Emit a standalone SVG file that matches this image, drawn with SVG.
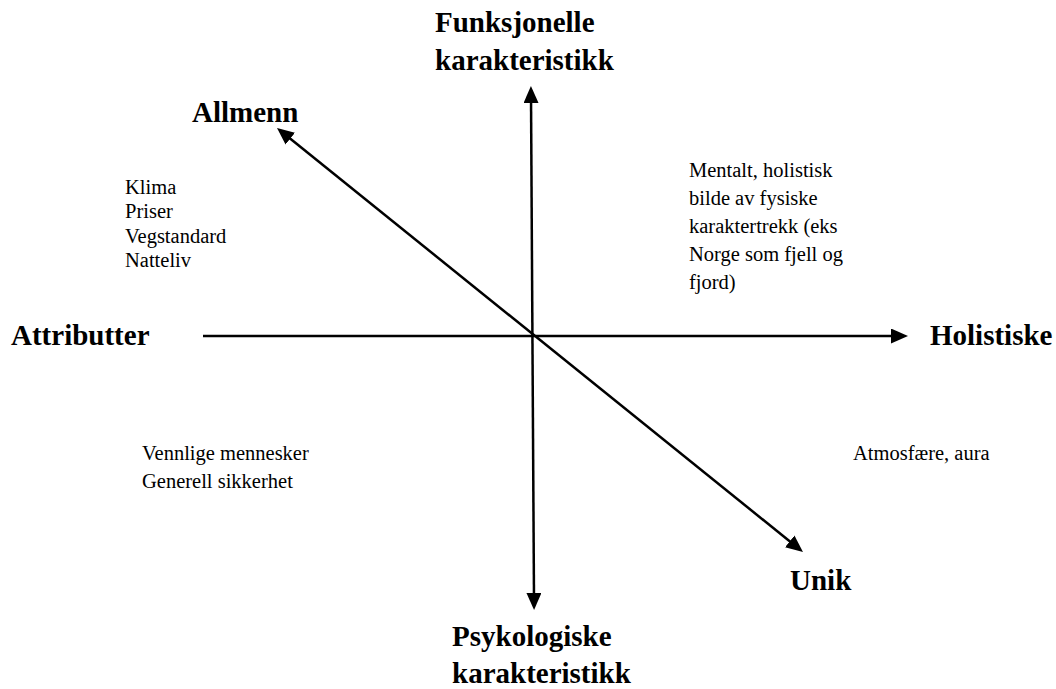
<svg xmlns="http://www.w3.org/2000/svg" width="1056" height="689" viewBox="0 0 1056 689">
  <style>
    .axis { stroke: #000; stroke-width: 2.5; fill: none; }
    .title { font-family: "Liberation Serif", "Times New Roman", serif; font-weight: bold; font-size: 29px; fill: #000; }
    .note { font-family: "Liberation Serif", "Times New Roman", serif; font-size: 20.5px; fill: #000; }
  </style>
  <defs>
    <!-- filled triangular head; tip sits 10px beyond the line end -->
    <marker id="head" viewBox="0 0 17 15" refX="7" refY="7.5" markerWidth="17" markerHeight="15" markerUnits="userSpaceOnUse" orient="auto-start-reverse">
      <path d="M0,0 L17,7.5 L0,15 Z" fill="#000"/>
    </marker>
  </defs>

  <rect width="1056" height="689" fill="#fff"/>

  <!-- axes -->
  <g id="connectors">
    <line id="axis-vertical" class="axis" x1="531" y1="96" x2="534" y2="600" marker-start="url(#head)" marker-end="url(#head)"/>
    <line id="axis-horizontal" class="axis" x1="203" y1="336" x2="898" y2="336" marker-end="url(#head)"/>
    <line id="axis-diagonal" class="axis" x1="284.8" y1="134.3" x2="795.2" y2="545.7" marker-start="url(#head)" marker-end="url(#head)"/>
  </g>

  <!-- axis end labels -->
  <g id="label-funksjonelle">
    <text class="title" x="435" y="32">Funksjonelle</text>
    <text class="title" x="435" y="70">karakteristikk</text>
  </g>
  <g id="label-psykologiske">
    <text class="title" x="452" y="646">Psykologiske</text>
    <text class="title" x="452" y="683">karakteristikk</text>
  </g>
  <g id="label-allmenn">
    <text class="title" x="192" y="122">Allmenn</text>
  </g>
  <g id="label-unik">
    <text class="title" x="790" y="590">Unik</text>
  </g>
  <g id="label-attributter">
    <text class="title" x="11" y="345">Attributter</text>
  </g>
  <g id="label-holistiske">
    <text class="title" x="930" y="345">Holistiske</text>
  </g>

  <!-- quadrant contents -->
  <g id="quadrant-top-left">
    <text class="note" x="125" y="194">Klima</text>
    <text class="note" x="125" y="218">Priser</text>
    <text class="note" x="125" y="243">Vegstandard</text>
    <text class="note" x="125" y="267">Natteliv</text>
  </g>
  <g id="quadrant-top-right">
    <text class="note" x="689" y="177">Mentalt, holistisk</text>
    <text class="note" x="689" y="205">bilde av fysiske</text>
    <text class="note" x="689" y="233">karaktertrekk (eks</text>
    <text class="note" x="689" y="261">Norge som fjell og</text>
    <text class="note" x="689" y="289">fjord)</text>
  </g>
  <g id="quadrant-bottom-left">
    <text class="note" x="142" y="460">Vennlige mennesker</text>
    <text class="note" x="142" y="488">Generell sikkerhet</text>
  </g>
  <g id="quadrant-bottom-right">
    <text class="note" x="853" y="460">Atmosfære, aura</text>
  </g>
</svg>
